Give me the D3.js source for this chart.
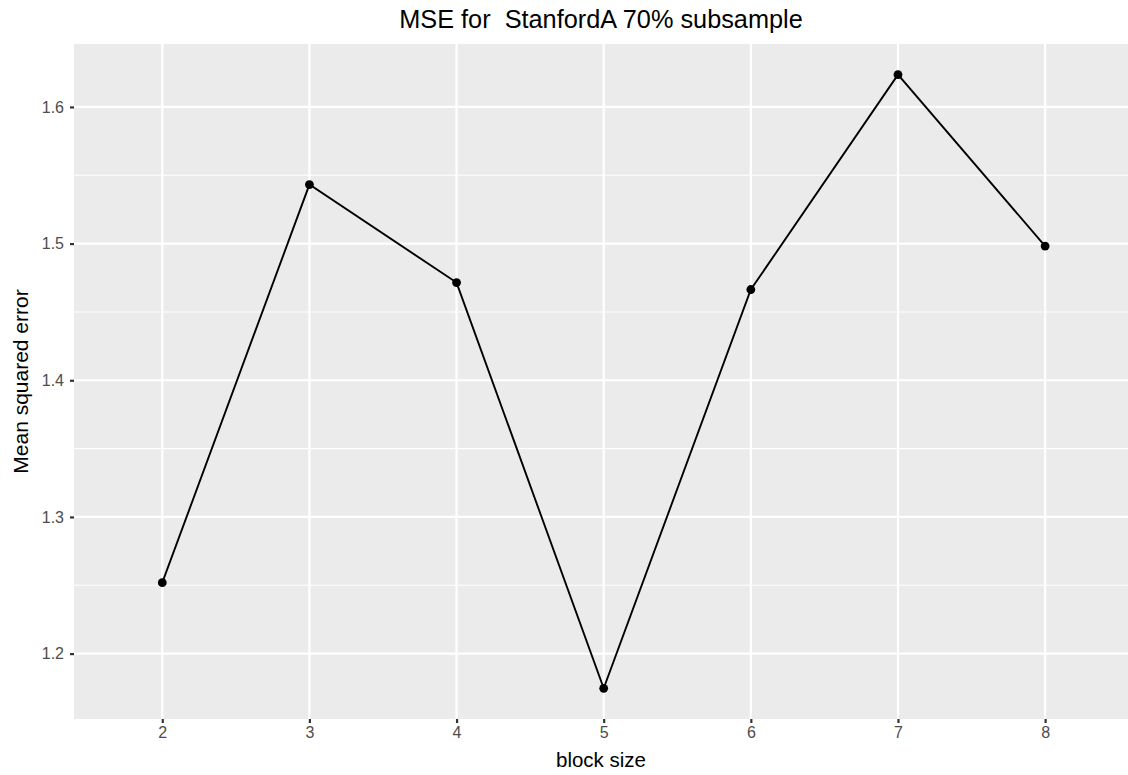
<!DOCTYPE html>
<html>
<head>
<meta charset="utf-8">
<script src="https://cdn.jsdelivr.net/npm/d3@7"></script>
<style>
  html, body { margin: 0; padding: 0; background: #ffffff; }
  svg { display: block; font-family: "Liberation Sans", Arial, Helvetica, sans-serif; }
</style>
</head>
<body>
<svg id="chart" width="1128" height="775"></svg>
<script>
// Block sizes and their mean squared error
const blockSizes = [2, 3, 4, 5, 6, 7, 8];
const mseValues = [1.2519, 1.5432, 1.4715, 1.1746, 1.4664, 1.6236, 1.4982];
const yTicks = [1.2, 1.3, 1.4, 1.5, 1.6];
const yMinor = [1.15, 1.25, 1.35, 1.45, 1.55, 1.65];

const W = 1128, H = 775;
const panel = { left: 74, right: 1128, top: 44, bottom: 719 };

const svg = d3.select("#chart");

// Discrete-style x axis: 0.6 units of padding on each side
const x = d3.scaleLinear()
  .domain([blockSizes[0] - 0.6, blockSizes[blockSizes.length - 1] + 0.6])
  .range([panel.left, 1133.4]);

const yLo = d3.min(mseValues), yHi = d3.max(mseValues);
const yPad = (yHi - yLo) * 0.05;
const y = d3.scaleLinear()
  .domain([yLo - yPad, yHi + yPad])
  .range([panel.bottom, panel.top]);

svg.append("defs").append("clipPath").attr("id", "panelClip")
  .append("rect")
  .attr("x", panel.left).attr("y", panel.top)
  .attr("width", panel.right - panel.left).attr("height", panel.bottom - panel.top);

// Panel background
svg.append("rect")
  .attr("x", panel.left).attr("y", panel.top)
  .attr("width", panel.right - panel.left).attr("height", panel.bottom - panel.top)
  .attr("fill", "#EBEBEB");

const grid = svg.append("g").attr("clip-path", "url(#panelClip)");

// Minor horizontal grid
grid.selectAll("line.minor")
  .data(yMinor)
  .join("line")
  .attr("class", "minor")
  .attr("x1", panel.left).attr("x2", panel.right)
  .attr("y1", d => y(d)).attr("y2", d => y(d))
  .attr("stroke", "#ffffff").attr("stroke-width", 1.1);

// Major horizontal grid
grid.selectAll("line.majorY")
  .data(yTicks)
  .join("line")
  .attr("class", "majorY")
  .attr("x1", panel.left).attr("x2", panel.right)
  .attr("y1", d => y(d)).attr("y2", d => y(d))
  .attr("stroke", "#ffffff").attr("stroke-width", 2.2);

// Major vertical grid
grid.selectAll("line.majorX")
  .data(blockSizes)
  .join("line")
  .attr("class", "majorX")
  .attr("y1", panel.top).attr("y2", panel.bottom)
  .attr("x1", d => x(d)).attr("x2", d => x(d))
  .attr("stroke", "#ffffff").attr("stroke-width", 2.2);

// Axes
const xAxis = svg.append("g")
  .attr("transform", `translate(0,${panel.bottom})`)
  .call(d3.axisBottom(x).tickValues(blockSizes).tickFormat(d3.format("d")).tickSize(4).tickPadding(4));
const yAxis = svg.append("g")
  .attr("transform", `translate(${panel.left},0)`)
  .call(d3.axisLeft(y).tickValues(yTicks).tickFormat(d3.format(".1f")).tickSize(4).tickPadding(6));

[xAxis, yAxis].forEach(g => {
  g.attr("font-size", 16).attr("font-family", "'Liberation Sans', Arial, sans-serif");
  g.select(".domain").remove();
  g.selectAll(".tick line").attr("stroke", "#333333").attr("stroke-width", 2.2);
  g.selectAll(".tick text")
    .attr("fill", "#4D4D4D")
    .style("font-size", "16px");
});

// Series line and points
const line = d3.line()
  .x((d, i) => x(blockSizes[i]))
  .y(d => y(d));

svg.append("path")
  .datum(mseValues)
  .attr("d", line)
  .attr("fill", "none")
  .attr("stroke", "#000000")
  .attr("stroke-width", 1.9);

svg.selectAll("circle.pt")
  .data(mseValues)
  .join("circle")
  .attr("class", "pt")
  .attr("cx", (d, i) => x(blockSizes[i]))
  .attr("cy", d => y(d))
  .attr("r", 4.4)
  .attr("fill", "#000000");

// Titles
svg.append("text")
  .attr("x", (panel.left + panel.right) / 2).attr("y", 28)
  .attr("text-anchor", "middle")
  .style("font-size", "25.3px")
  .attr("fill", "#000000")
  .attr("xml:space", "preserve")
  .text("MSE for  StanfordA 70% subsample");

svg.append("text")
  .attr("x", (panel.left + panel.right) / 2).attr("y", 767)
  .attr("text-anchor", "middle")
  .style("font-size", "20.5px")
  .attr("fill", "#000000")
  .text("block size");

svg.append("text")
  .attr("transform", `translate(28,${(panel.top + panel.bottom) / 2}) rotate(-90)`)
  .attr("text-anchor", "middle")
  .style("font-size", "21px")
  .attr("fill", "#000000")
  .text("Mean squared error");
</script>
</body>
</html>
